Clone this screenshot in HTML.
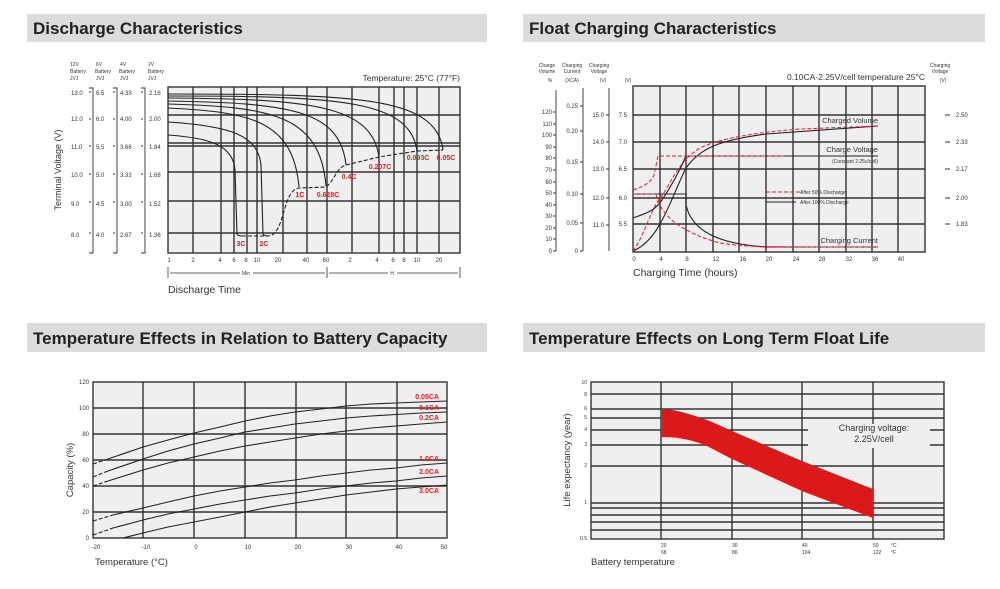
<!DOCTYPE html>
<html><head><meta charset="utf-8"><style>
html,body{margin:0;padding:0;background:#fff;}
svg{display:block;font-family:"Liberation Sans",Arial,sans-serif;}
.t{font-size:17px;font-weight:bold;fill:#222;}
.s{font-size:6px;fill:#333;}
.xs{font-size:5px;fill:#333;}
.r{font-size:7px;font-weight:bold;fill:#e02020;}
.g{stroke:#333;stroke-width:1.4;fill:none;}
.c{stroke:#222;stroke-width:1.1;fill:none;}
.d{stroke:#222;stroke-width:1.1;fill:none;stroke-dasharray:4,2;}
.rd{stroke:#e02020;stroke-width:1;fill:none;stroke-dasharray:4,2;}
</style></head><body>
<svg width="1000" height="589" viewBox="0 0 1000 589">
<!-- title bars -->
<rect x="27" y="14" width="460" height="28" fill="#dcdcdc"/>
<text x="33" y="34" class="t">Discharge Characteristics</text>
<rect x="523" y="14" width="462" height="28" fill="#dcdcdc"/>
<text x="529" y="34" class="t">Float Charging Characteristics</text>
<rect x="27" y="323" width="460" height="29" fill="#dcdcdc"/>
<text x="33" y="344" class="t">Temperature Effects in Relation to Battery Capacity</text>
<rect x="523" y="323" width="462" height="29" fill="#dcdcdc"/>
<text x="529" y="344" class="t">Temperature Effects on Long Term Float Life</text>

<!-- ===== Chart 1 ===== -->
<rect x="168" y="87" width="292" height="166" fill="#efefef"/>
<g class="g">
<line x1="168" y1="115" x2="460" y2="115"/>
<line x1="168" y1="143" x2="460" y2="143"/><line x1="168" y1="146" x2="460" y2="146"/>
<line x1="168" y1="172" x2="460" y2="172"/>
<line x1="168" y1="201" x2="460" y2="201"/>
<line x1="168" y1="233" x2="460" y2="233"/>
<line x1="193" y1="87" x2="193" y2="253"/><line x1="221" y1="87" x2="221" y2="253"/>
<line x1="234" y1="87" x2="234" y2="253"/><line x1="247" y1="87" x2="247" y2="253"/>
<line x1="257" y1="87" x2="257" y2="253"/><line x1="283" y1="87" x2="283" y2="253"/>
<line x1="307" y1="87" x2="307" y2="253"/><line x1="327" y1="87" x2="327" y2="253"/>
<line x1="352" y1="87" x2="352" y2="253"/><line x1="379" y1="87" x2="379" y2="253"/>
<line x1="394" y1="87" x2="394" y2="253"/><line x1="404" y1="87" x2="404" y2="253"/>
<line x1="417" y1="87" x2="417" y2="253"/><line x1="439" y1="87" x2="439" y2="253"/>
<rect x="168" y="87" width="292" height="166"/>
</g>
<g class="c">
<path d="M168,135 C210,138 233,145 235,170 L237,234 Q238,236 242,236"/>
<path d="M168,122 C230,126 258,135 261,165 L263,234 Q264,236 268,236"/>
<path d="M168,108 C250,112 293,120 299,187"/>
<path d="M168,104 C270,107 320,114 326,186"/>
<path d="M168,101 C290,103 340,110 346,165"/>
<path d="M168,98 C310,99 372,105 379,157"/>
<path d="M168,96 C340,96 410,100 417,151"/>
<path d="M168,94 C360,94 436,97 443,150"/>
</g>
<path class="d" d="M242,236 L268,236 C285,236 282,190 299,188 L326,187 C335,180 336,168 346,165 L379,157 L417,151 L443,150"/>
<g class="r" text-anchor="middle">
<text x="241" y="246">3C</text><text x="264" y="246">2C</text>
<text x="300" y="197">1C</text><text x="328" y="197">0.628C</text>
<text x="349" y="179">0.4C</text><text x="380" y="169">0.207C</text>
<text x="418" y="160">0.093C</text><text x="446" y="160">0.05C</text>
</g>
<text x="460" y="81" text-anchor="end" style="font-size:8.5px;fill:#333">Temperature: 25°C (77°F)</text>
<g class="xs">
<text x="70" y="66">12V</text><text x="70" y="73">Battery</text><text x="70" y="80">JVJ</text>
<text x="96" y="66">6V</text><text x="95" y="73">Battery</text><text x="96" y="80">JVJ</text>
<text x="120" y="66">4V</text><text x="119" y="73">Battery</text><text x="120" y="80">JVJ</text>
<text x="148" y="66">2V</text><text x="148" y="73">Battery</text><text x="148" y="80">JVJ</text>
</g>
<g class="s">
<text x="71" y="95">13.0</text><text x="71" y="121">12.0</text><text x="71" y="149">11.0</text><text x="71" y="177">10.0</text><text x="71" y="206">9.0</text><text x="71" y="237">8.0</text>
<text x="96" y="95">6.5</text><text x="96" y="121">6.0</text><text x="96" y="149">5.5</text><text x="96" y="177">5.0</text><text x="96" y="206">4.5</text><text x="96" y="237">4.0</text>
<text x="120" y="95">4.33</text><text x="120" y="121">4.00</text><text x="120" y="149">3.66</text><text x="120" y="177">3.33</text><text x="120" y="206">3.00</text><text x="120" y="237">2.67</text>
<text x="149" y="95">2.16</text><text x="149" y="121">2.00</text><text x="149" y="149">1.84</text><text x="149" y="177">1.68</text><text x="149" y="206">1.52</text><text x="149" y="237">1.36</text>
</g>
<g stroke="#333" stroke-width="0.9" fill="none">
<path d="M89,88 H93 V253 H89"/><path d="M113,88 H117 V253 H113"/><path d="M141,88 H145 V253 H141"/>
<path d="M89,92 h2 M89,119 h2 M89,146 h2 M89,174 h2 M89,202 h2 M89,233 h2"/>
<path d="M113,92 h2 M113,119 h2 M113,146 h2 M113,174 h2 M113,202 h2 M113,233 h2"/>
<path d="M141,92 h2 M141,119 h2 M141,146 h2 M141,174 h2 M141,202 h2 M141,233 h2"/>
</g>
<text transform="translate(61,170) rotate(-90)" text-anchor="middle" style="font-size:9px;fill:#333">Terminal Voltage (V)</text>
<g class="s" text-anchor="middle">
<text x="169" y="262">1</text><text x="193" y="262">2</text><text x="220" y="262">4</text><text x="234" y="262">6</text><text x="246" y="262">8</text><text x="257" y="262">10</text><text x="278" y="262">20</text><text x="306" y="262">40</text><text x="326" y="262">60</text><text x="350" y="262">2</text><text x="377" y="262">4</text><text x="393" y="262">6</text><text x="404" y="262">8</text><text x="417" y="262">10</text><text x="439" y="262">20</text>
<text x="246" y="275" style="font-size:5px">Min</text><text x="392" y="275" style="font-size:5px">H</text>
</g>
<g stroke="#333" stroke-width="0.8">
<line x1="168" y1="267" x2="168" y2="278"/><line x1="327" y1="267" x2="327" y2="278"/><line x1="460" y1="267" x2="460" y2="278"/>
<line x1="170" y1="273" x2="240" y2="273"/><line x1="253" y1="273" x2="325" y2="273"/>
<line x1="329" y1="273" x2="388" y2="273"/><line x1="397" y1="273" x2="458" y2="273"/>
</g>
<text x="168" y="293" style="font-size:10.5px;fill:#333">Discharge Time</text>

<!-- ===== Chart 2 ===== -->
<rect x="633" y="86" width="292" height="166" fill="#efefef"/>
<g class="g">
<line x1="633" y1="115" x2="925" y2="115"/><line x1="633" y1="142" x2="925" y2="142"/>
<line x1="633" y1="169" x2="925" y2="169"/><line x1="633" y1="198" x2="925" y2="198"/>
<line x1="633" y1="224" x2="925" y2="224"/>
<line x1="660" y1="86" x2="660" y2="252"/><line x1="686" y1="86" x2="686" y2="252"/>
<line x1="713" y1="86" x2="713" y2="252"/><line x1="739" y1="86" x2="739" y2="252"/>
<line x1="766" y1="86" x2="766" y2="252"/><line x1="793" y1="86" x2="793" y2="252"/>
<line x1="819" y1="86" x2="819" y2="252"/><line x1="846" y1="86" x2="846" y2="252"/>
<line x1="872" y1="86" x2="872" y2="252"/><line x1="898" y1="86" x2="898" y2="252"/>
<rect x="633" y="86" width="292" height="166"/>
</g>
<g class="c">
<path d="M633,218 C650,212 655,210 662,200 C672,185 680,170 686,156 L878,156"/>
<path d="M633,251 C660,240 670,200 686,168 C700,148 720,140 766,134 L878,126"/>
<path d="M633,194 L686,194 L686,205 C692,232 720,244 766,247 L878,247"/>
</g>
<g class="rd">
<path d="M633,190 C648,185 652,180 654,175 L658,156 L785,156"/>
<path d="M633,251 C645,235 652,205 662,196 C672,180 680,160 700,148 C720,138 760,132 800,129 L878,126"/>
<path d="M633,194 L656,194 C660,215 680,232 720,243 C745,247 760,247 878,247"/>
<line x1="766" y1="192" x2="800" y2="192"/>
</g>
<line x1="766" y1="202" x2="796" y2="202" stroke="#222" stroke-width="1"/>
<text x="800" y="194" class="xs">After  50% Discharge</text>
<text x="800" y="204" class="xs">After 100% Discharge</text>
<g text-anchor="end" style="font-size:7.5px;fill:#333">
<text x="878" y="123">Charged Volume</text>
<text x="878" y="152">Charge Voltage</text>
<text x="878" y="243">Charging Current</text>
</g>
<text x="878" y="163" text-anchor="end" class="xs">(Constant 2.25v/cell)</text>
<text x="925" y="80" text-anchor="end" style="font-size:8.5px;fill:#333">0.10CA-2.25V/cell  temperature 25°C</text>
<g class="xs" text-anchor="middle">
<text x="547" y="67">Charge</text><text x="547" y="73">Volume</text><text x="550" y="82">%</text>
<text x="572" y="67">Charging</text><text x="572" y="73">Current</text><text x="572" y="82">(XCA)</text>
<text x="599" y="67">Charging</text><text x="599" y="73">Voltage</text><text x="603" y="82">(V)</text>
<text x="628" y="82">(V)</text>
<text x="940" y="67">Charging</text><text x="940" y="73">Voltage</text><text x="943" y="82">(V)</text>
</g>
<g stroke="#333" stroke-width="0.9">
<line x1="556" y1="90" x2="556" y2="251"/><line x1="583" y1="88" x2="583" y2="251"/><line x1="609" y1="88" x2="609" y2="251"/>
</g>
<g class="s" text-anchor="end">
<text x="552" y="253">0</text><text x="552" y="241">10</text><text x="552" y="230">20</text><text x="552" y="218">30</text><text x="552" y="207">40</text><text x="552" y="195">50</text><text x="552" y="184">60</text><text x="552" y="172">70</text><text x="552" y="160">80</text><text x="552" y="149">90</text><text x="552" y="137">100</text><text x="552" y="126">110</text><text x="552" y="114">120</text>
<text x="578" y="253">0</text><text x="578" y="225">0.05</text><text x="578" y="196">0.10</text><text x="578" y="164">0.15</text><text x="578" y="133">0.20</text><text x="578" y="108">0.25</text>
<text x="604" y="117">15.0</text><text x="604" y="144">14.0</text><text x="604" y="171">13.0</text><text x="604" y="200">12.0</text><text x="604" y="227">11.0</text>
<text x="627" y="117">7.5</text><text x="627" y="144">7.0</text><text x="627" y="171">6.5</text><text x="627" y="200">6.0</text><text x="627" y="226">5.5</text>
</g>
<g stroke="#333" stroke-width="0.9">
<path d="M553,251h3M553,239h3M553,228h3M553,216h3M553,205h3M553,193h3M553,182h3M553,170h3M553,158h3M553,147h3M553,135h3M553,124h3M553,112h3"/>
<path d="M580,251h3M580,223h3M580,194h3M580,162h3M580,131h3M580,106h3"/>
<path d="M606,115h3M606,142h3M606,169h3M606,198h3M606,225h3"/>
<path d="M945,115h5M945,142h5M945,169h5M945,198h5M945,224h5"/>
</g>
<g class="s">
<text x="956" y="117">2.50</text><text x="956" y="144">2.33</text><text x="956" y="171">2.17</text><text x="956" y="200">2.00</text><text x="956" y="226">1.83</text>
</g>
<g class="s" text-anchor="middle">
<text x="634" y="261">0</text><text x="661" y="261">4</text><text x="687" y="261">8</text><text x="716" y="261">12</text><text x="743" y="261">16</text><text x="769" y="261">20</text><text x="796" y="261">24</text><text x="822" y="261">28</text><text x="849" y="261">32</text><text x="875" y="261">36</text><text x="901" y="261">40</text>
</g>
<text x="633" y="276" style="font-size:10.5px;fill:#333">Charging Time (hours)</text>

<!-- ===== Chart 3 ===== -->
<rect x="93" y="382" width="354" height="156" fill="#efefef"/>
<g class="g">
<line x1="93" y1="408" x2="447" y2="408"/><line x1="93" y1="434" x2="447" y2="434"/>
<line x1="93" y1="460" x2="447" y2="460"/><line x1="93" y1="486" x2="447" y2="486"/>
<line x1="93" y1="512" x2="447" y2="512"/>
<line x1="143" y1="382" x2="143" y2="538"/><line x1="194" y1="382" x2="194" y2="538"/>
<line x1="245" y1="382" x2="245" y2="538"/><line x1="296" y1="382" x2="296" y2="538"/>
<line x1="346" y1="382" x2="346" y2="538"/><line x1="397" y1="382" x2="397" y2="538"/>
<rect x="93" y="382" width="354" height="156"/>
</g>
<g class="c" stroke-width="1.3">
<polyline points="108,459 143,447 168,440 194,433 220,427 245,421 270,416 295,412 321,409 346,406 371,404 396,403 421,402 447,401"/>
<polyline points="108,471 143,459 168,451 194,444 220,438 245,432 270,428 295,424 321,421 346,418 371,416 396,414.5 421,413 447,412"/>
<polyline points="108,481 143,470 168,463 194,457 220,451 245,446 270,442 295,438 321,434 346,431 371,428 396,426 421,424 447,422"/>
<polyline points="113,515 143,508 168,502 194,496 220,491 245,487 270,483 295,480 321,476 346,473 371,470 396,468 421,465 447,463"/>
<polyline points="113,528 143,520 168,514 194,509 220,504 245,500 270,496 295,493 321,489 346,486 371,483 396,481 421,478 447,476"/>
<polyline points="123,538 143,533 168,527 194,522 220,517 245,512 270,507 295,503 321,499 346,495 371,492 396,489 421,487 447,485"/>
</g>
<g class="d" stroke-dasharray="3,2" stroke-width="1.2">
<line x1="93" y1="464" x2="108" y2="459"/><line x1="93" y1="477" x2="108" y2="471"/>
<line x1="93" y1="486" x2="108" y2="481"/><line x1="93" y1="521" x2="113" y2="515"/>
<line x1="93" y1="535" x2="113" y2="528"/>
</g>
<g class="r" text-anchor="end">
<text x="439" y="399">0.05CA</text><text x="439" y="410">0.1CA</text><text x="439" y="420">0.2CA</text>
<text x="439" y="461">1.0CA</text><text x="439" y="474">2.0CA</text><text x="439" y="493">3.0CA</text>
</g>
<g class="s" text-anchor="end">
<text x="89" y="384">120</text><text x="89" y="410">100</text><text x="89" y="436">80</text><text x="89" y="462">60</text><text x="89" y="488">40</text><text x="89" y="514">20</text><text x="89" y="540">0</text>
</g>
<g class="s" text-anchor="middle">
<text x="96" y="549">-20</text><text x="146" y="549">-10</text><text x="196" y="549">0</text><text x="248" y="549">10</text><text x="298" y="549">20</text><text x="349" y="549">30</text><text x="399" y="549">40</text><text x="444" y="549">50</text>
</g>
<text x="95" y="565" style="font-size:9.5px;fill:#333">Temperature (°C)</text>
<text transform="translate(73,470) rotate(-90)" text-anchor="middle" style="font-size:9.5px;fill:#333">Capacity (%)</text>

<!-- ===== Chart 4 ===== -->
<rect x="591" y="382" width="353" height="157" fill="#efefef"/>
<g class="g">
<line x1="591" y1="394" x2="944" y2="394"/><line x1="591" y1="409" x2="944" y2="409"/>
<line x1="591" y1="418" x2="944" y2="418"/><line x1="591" y1="430" x2="944" y2="430"/>
<line x1="591" y1="445" x2="944" y2="445"/><line x1="591" y1="466" x2="944" y2="466"/>
<line x1="591" y1="503" x2="944" y2="503"/><line x1="591" y1="508" x2="944" y2="508"/>
<line x1="591" y1="515" x2="944" y2="515"/><line x1="591" y1="522" x2="944" y2="522"/>
<line x1="591" y1="530" x2="944" y2="530"/>
<line x1="661" y1="382" x2="661" y2="539"/><line x1="732" y1="382" x2="732" y2="539"/>
<line x1="802" y1="382" x2="802" y2="539"/><line x1="873" y1="382" x2="873" y2="539"/>
<rect x="591" y="382" width="353" height="157"/>
</g>
<path d="M661,409 C675,409 690,414 710,421 L732,431 L802,461 L873,489 L873,518 L802,491 L732,459 L705,445 C685,438 675,437 661,437 Z" fill="#dd1818"/>
<rect x="808" y="424" width="122" height="24" fill="#efefef"/>
<text x="874" y="431" text-anchor="middle" style="font-size:9px;fill:#333">Charging voltage:</text>
<text x="874" y="442" text-anchor="middle" style="font-size:9px;fill:#333">2.25V/cell</text>
<g class="xs" text-anchor="end">
<text x="587" y="384">10</text><text x="587" y="396">8</text><text x="587" y="410">6</text><text x="587" y="419">5</text><text x="587" y="431">4</text><text x="587" y="446">3</text><text x="587" y="467">2</text><text x="587" y="504">1</text><text x="587" y="540">0.5</text>
</g>
<g class="xs">
<text x="661" y="547">20</text><text x="661" y="554">68</text>
<text x="732" y="547">30</text><text x="732" y="554">86</text>
<text x="802" y="547">40</text><text x="802" y="554">104</text>
<text x="873" y="547">50</text><text x="873" y="554">122</text>
<text x="891" y="547">°C</text><text x="891" y="554">°F</text>
</g>
<text x="591" y="565" style="font-size:9.5px;fill:#333">Battery temperature</text>
<text transform="translate(570,460) rotate(-90)" text-anchor="middle" style="font-size:9.5px;fill:#333">Life expectancy (year)</text>
</svg>
</body></html>
